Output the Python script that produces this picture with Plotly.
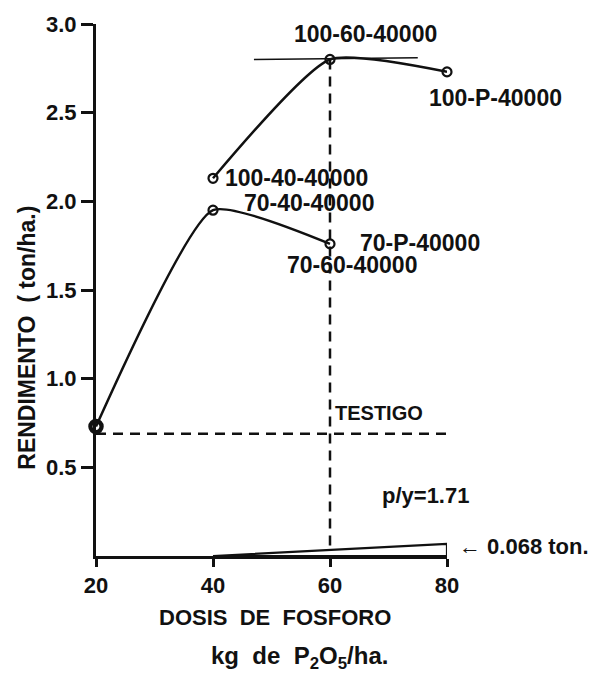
import plotly.graph_objects as go

# Data
dose = [20, 40, 60, 80]
upper_x = [40, 60, 80]
upper_y = [2.13, 2.80, 2.73]
lower_x = [20, 40, 60]
lower_y = [0.73, 1.95, 1.76]
testigo_y = 0.69
optimum_x = 60
optimum_y = 2.80
tangent_x = [47, 75]
tangent_y = [2.80, 2.81]
wedge_x = [40, 80, 80, 40]
wedge_y = [0.0, 0.068, 0.0, 0.0]
yticks = [0.5, 1.0, 1.5, 2.0, 2.5, 3.0]
ytick_text = ["0.5", "1.0", "1.5", "2.0", "2.5", "3.0"]
xtick_text = ["20", "40", "60", "80"]

FONT = "Liberation Sans, Arial, sans-serif"
BLK = "#111111"

def f(size):
    return dict(family=FONT, size=size, color=BLK, weight="bold")

fig = go.Figure()

# testigo dashed horizontal
fig.add_trace(go.Scatter(x=[dose[0], dose[-1]], y=[testigo_y, testigo_y], mode="lines",
                         line=dict(color=BLK, width=2.5, dash="10px,7px"), hoverinfo="skip"))
# vertical dashed at optimum
fig.add_trace(go.Scatter(x=[optimum_x, optimum_x], y=[optimum_y, 0], mode="lines",
                         line=dict(color=BLK, width=2.5, dash="10px,7px"), hoverinfo="skip"))
# tangent
fig.add_trace(go.Scatter(x=tangent_x, y=tangent_y, mode="lines",
                         line=dict(color=BLK, width=1.5), hoverinfo="skip"))
# wedge
fig.add_trace(go.Scatter(x=wedge_x, y=wedge_y, mode="lines", fill="toself", fillcolor="white",
                         line=dict(color=BLK, width=2.2), hoverinfo="skip"))
# curves
fig.add_trace(go.Scatter(x=upper_x, y=upper_y, mode="lines+markers",
                         line=dict(color=BLK, width=2.5, shape="spline", smoothing=0.55),
                         marker=dict(symbol="circle-open", size=9, color=BLK,
                                     line=dict(width=2.2, color=BLK)),
                         cliponaxis=False))
fig.add_trace(go.Scatter(x=lower_x, y=lower_y, mode="lines+markers",
                         line=dict(color=BLK, width=2.5, shape="spline", smoothing=0.5),
                         marker=dict(symbol="circle-open", size=9, color=BLK,
                                     line=dict(width=2.2, color=BLK)),
                         cliponaxis=False))
# bold starting point (testigo plot)
fig.add_trace(go.Scatter(x=lower_x[:1], y=lower_y[:1], mode="markers",
                         marker=dict(symbol="circle-open", size=12, color=BLK,
                                     line=dict(width=3.5, color=BLK)),
                         cliponaxis=False))

anns = [
    ("100-60-40000", 66.0, 2.944, "center", 23),
    ("100-40-40000", 41.7, 2.132, "left", 23),
    ("70-40-40000", 44.9, 1.991, "left", 23),
    ("70-P-40000", 64.8, 1.765, "left", 23),
    ("70-60-40000", 52.3, 1.641, "left", 23),
    ("TESTIGO", 60.5, 0.806, "left", 20),
    ("p/y=1.71", 68.5, 0.344, "left", 22),
]
for t, x, y, xa, s in anns:
    fig.add_annotation(x=x, y=y, text=t, showarrow=False, xanchor=xa, yanchor="middle", font=f(s))

# labels lying right of the axis range (paper coordinates)
fig.add_annotation(xref="paper", yref="paper", x=1.1396, y=0.861, text="100-P-40000",
                   showarrow=False, xanchor="center", yanchor="middle", font=f(23))
fig.add_annotation(xref="paper", yref="paper", x=1.028, y=0.017, text="\u2190 0.068 ton.",
                   showarrow=False, xanchor="left", yanchor="middle", font=f(22))

fig.add_annotation(xref="paper", yref="paper", x=-0.197, y=0.41, text="RENDIMENTO  ( ton/ha.)",
                   textangle=-90, showarrow=False, xanchor="center", yanchor="middle", font=f(23))
fig.add_annotation(xref="paper", yref="paper", x=0.51, y=-0.115, text="DOSIS  DE  FOSFORO",
                   showarrow=False, xanchor="center", yanchor="middle", font=f(22))
fig.add_annotation(xref="paper", yref="paper", x=0.58, y=-0.19,
                   text="kg  de  P<sub>2</sub>O<sub>5</sub>/ha.",
                   showarrow=False, xanchor="center", yanchor="middle", font=f(24))

fig.update_layout(
    width=600, height=695,
    margin=dict(l=96, r=153, t=24, b=139),
    plot_bgcolor="white", paper_bgcolor="white",
    showlegend=False,
    xaxis=dict(range=[20, 80], tickvals=dose, ticktext=xtick_text, showgrid=False, zeroline=False,
               showline=True, linecolor=BLK, linewidth=3, ticks="outside", ticklen=8, tickwidth=3,
               tickcolor=BLK, tickfont=f(22), ticklabelstandoff=0),
    yaxis=dict(range=[0, 3.0], tickvals=yticks, ticktext=ytick_text, showgrid=False, zeroline=False,
               showline=True, linecolor=BLK, linewidth=3, ticks="outside", ticklen=12, tickwidth=3,
               tickcolor=BLK, tickfont=f(22)),
)

fig.write_html("out.html")
